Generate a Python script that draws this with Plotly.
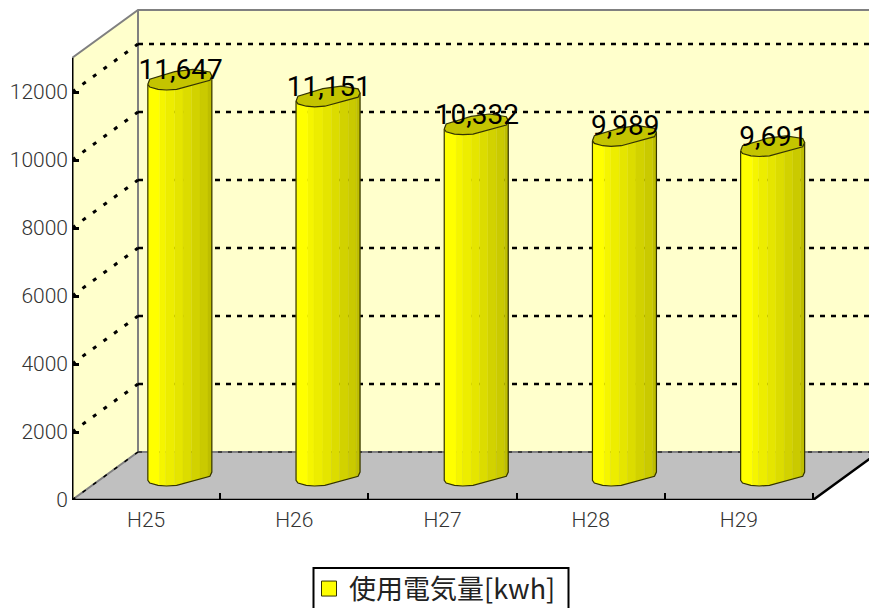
import numpy as np
import plotly.graph_objects as go

# ---- data ----
categories = ["H25", "H26", "H27", "H28", "H29"]
values = [11647, 11151, 10332, 9989, 9691]
value_labels = ["11,647", "11,151", "10,332", "9,989", "9,691"]
y_ticks = [0, 2000, 4000, 6000, 8000, 10000, 12000]
series_name = "使用電気量[kwh]"

# ---- oblique projection, in axis units ----
W, H = 869, 608
L, B = 72, 108
PX_CAT = 148.2          # px per category
PX_VAL = 0.034          # px per value unit
DEPTH_X = 66 / PX_CAT
DEPTH_Y = 48 / PX_VAL
Y_TOP = 13000
X0, X1 = -0.5, len(categories) - 0.5


def proj(x, v, d):
    return x + d * DEPTH_X, v + d * DEPTH_Y


def poly(points):
    pts = [proj(*p) for p in points]
    return [p[0] for p in pts], [p[1] for p in pts]


# bar cross-section, normalised: u across (-1..1), w toward viewer (-1..1)
HALF_W = 32 / PX_CAT
HALF_D = 10.5 / PX_VAL
RING = [(-1.0, 0.41), (-0.94, -0.07), (-0.16, -0.79), (0.41, -1.02), (0.94, -0.76),
        (1.0, -0.38), (0.94, 0.03), (-0.10, 0.89), (-0.42, 0.95), (-0.68, 0.89),
        (-0.94, 0.67), (-1.0, 0.41)]
FRONT_U = [-1.0, -0.94, -0.68, -0.42, -0.10, 0.94, 1.0]
FRONT_W = [0.41, 0.67, 0.89, 0.95, 0.89, 0.03, -0.38]
STRIP_EDGES = [-1.0, -0.63, -0.44, -0.16, 0.10, 0.36, 0.63, 0.88, 1.0]
STRIP_COLORS = ["#FFFF00", "#F5F500", "#EDED00", "#E5E500", "#DCDC00", "#D2D200", "#CACA00", "#BEBE00"]
TOP_COLOR = "#C4C400"
OUTLINE = "#333300"

fig = go.Figure()


def add_poly(xs, ys, fill, line=None, lw=1):
    fig.add_trace(go.Scatter(x=xs, y=ys, mode="lines", fill="toself", fillcolor=fill,
                             line=dict(color=line or fill, width=lw if line else 0.3),
                             hoverinfo="skip", showlegend=False, cliponaxis=False))


def add_line(xs, ys, color, width, dash="solid"):
    fig.add_trace(go.Scatter(x=xs, y=ys, mode="lines",
                             line=dict(color=color, width=width, dash=dash),
                             hoverinfo="skip", showlegend=False, cliponaxis=False))


# walls and floor
WALL = "#FFFFCC"
add_poly(*poly([(X0, 0, 1), (X1, 0, 1), (X1, Y_TOP, 1), (X0, Y_TOP, 1), (X0, 0, 1)]), WALL)
add_poly(*poly([(X0, 0, 0), (X0, Y_TOP, 0), (X0, Y_TOP, 1), (X0, 0, 1), (X0, 0, 0)]), WALL)
add_poly(*poly([(X0, 0, 0), (X1, 0, 0), (X1, 0, 1), (X0, 0, 1), (X0, 0, 0)]), "#C0C0C0")

# grey wall edges
add_line(*poly([(X0, 0, 0), (X0, 0, 1), (X1, 0, 1)]), "#808080", 2)
add_line(*poly([(X0, Y_TOP, 0), (X0, Y_TOP, 1), (X1, Y_TOP, 1)]), "#808080", 2)
add_line(*poly([(X0, 0, 1), (X0, Y_TOP, 1)]), "#808080", 2)

# gridlines
for t in y_ticks:
    w = 1 if t == 0 else 2.6
    d = "4px,6px" if t == 0 else "5px,6px"
    add_line(*poly([(X0, t, 1), (X1, t, 1)]), "#000000", w, d)
    add_line(*poly([(X0, t, 0), (X0, t, 1)]), "#000000", w + 0.4 if t else 1.5, "4px,9px")

# bars
for i, v in enumerate(values):
    cx = i + DEPTH_X / 2 + 0.005
    base = DEPTH_Y / 2

    def front(u):
        return np.interp(u, FRONT_U, FRONT_W)

    for a, b, col in zip(STRIP_EDGES[:-1], STRIP_EDGES[1:], STRIP_COLORS):
        us = [a] + [u for u in FRONT_U if a < u < b] + [b]
        top = [base + v - front(u) * HALF_D for u in us]
        bot = [base - front(u) * HALF_D for u in us]
        xs = [cx + u * HALF_W for u in us]
        add_poly(xs + xs[::-1] + xs[:1], top + bot[::-1] + top[:1], col)

    # silhouette
    us = FRONT_U
    sx = [cx + u * HALF_W for u in us]
    sb = [base - front(u) * HALF_D for u in us]
    add_line([cx - HALF_W] + sx + [cx + HALF_W],
             [base + v - 0.41 * HALF_D] + sb + [base + v + 0.38 * HALF_D], OUTLINE, 1.2)
    # top face
    rx = [cx + r[0] * HALF_W for r in RING]
    ry = [base + v - r[1] * HALF_D for r in RING]
    add_poly(rx, ry, TOP_COLOR, OUTLINE, 1.2)

# front axis lines
add_line([X0, X0], [0, Y_TOP], "#000000", 3)
add_line(*poly([(X0, 0, 0), (X1, 0, 0), (X1, 0, 1)]), "#000000", 2.5)

# value labels
LABEL_DROP = 6 / PX_VAL
fig.add_trace(go.Scatter(
    x=[i + DEPTH_X / 2 + 0.01 for i in range(len(values))],
    y=[v + DEPTH_Y / 2 - LABEL_DROP for v in values],
    mode="text", text=value_labels, textposition="top center",
    textfont=dict(family="Roboto", size=28, color="#000000"),
    hoverinfo="skip", showlegend=False, cliponaxis=False))

# legend entry
fig.add_trace(go.Scatter(
    x=[None], y=[None], mode="markers", name=series_name,
    marker=dict(symbol="square", size=15, color="#FFFF00", line=dict(color="#333300", width=1))))

# legend frame, running off the page bottom as in the reference
fig.add_shape(type="rect", xref="paper", yref="paper",
              x0=(313.5 - L) / (W - L), x1=(568.5 - L) / (W - L),
              y0=-120 / (H - B), y1=-68 / (H - B),
              line=dict(color="#000000", width=2), fillcolor="rgba(0,0,0,0)")

fig.update_layout(
    width=W, height=H,
    margin=dict(l=L, r=0, t=0, b=B, pad=0, autoexpand=False),
    paper_bgcolor="#FFFFFF", plot_bgcolor="rgba(0,0,0,0)",
    xaxis=dict(range=[X0, X0 + (W - L) / PX_CAT], tickmode="array",
               tickvals=list(range(len(categories))), ticktext=categories,
               showgrid=False, zeroline=False, showline=False, ticks="", ticklabelstandoff=5,
               tickfont=dict(family="Roboto", size=21, color="#333333", weight=300),
               minor=dict(tickmode="array", tickvals=[i + 0.5 for i in range(len(categories))],
                          ticks="inside", ticklen=7, tickwidth=2, tickcolor="#000000", showgrid=False)),
    yaxis=dict(range=[0, (H - B) / PX_VAL], tickmode="array", tickvals=y_ticks,
               ticktext=[str(t) for t in y_ticks], showgrid=False, zeroline=False,
               showline=False, ticks="inside", ticklen=7, tickwidth=2.5, tickcolor="#000000",
               ticklabelstandoff=3,
               tickfont=dict(family="Roboto", size=21, color="#333333", weight=300)),
    legend=dict(x=(309 - L) / (W - L), y=-64.5 / (H - B), xanchor="left", yanchor="top",
                bgcolor="rgba(0,0,0,0)", borderwidth=0,
                font=dict(family="Noto Sans CJK JP", size=27, color="#222222"),
                itemwidth=30),
    showlegend=True,
)

fig.write_html("out.html", config={"displayModeBar": False},
               post_script="document.body.style.margin='0';window.dispatchEvent(new Event('resize'));")
